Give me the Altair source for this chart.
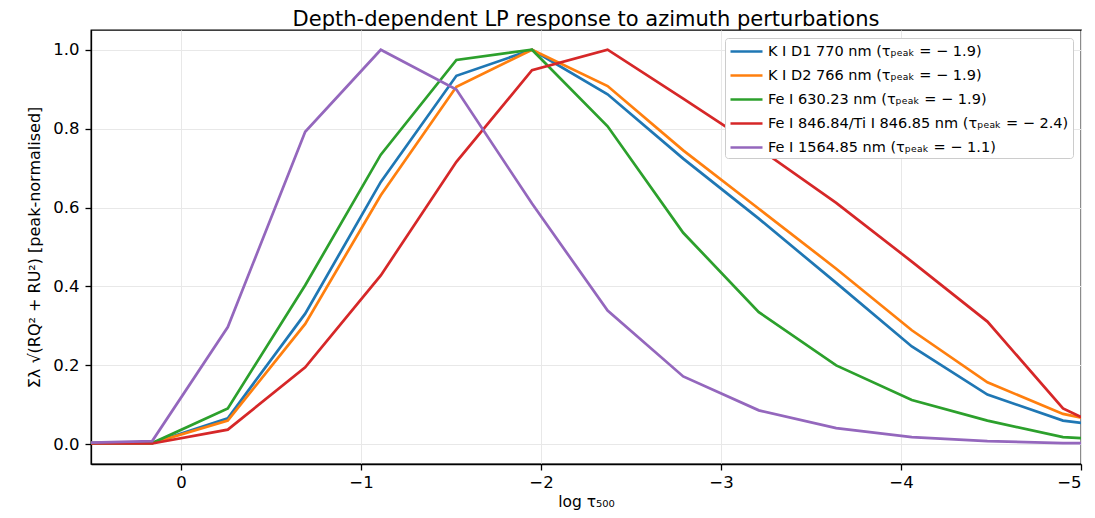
import altair as alt
import pandas as pd

tau = [0.58, 0.16, -0.26, -0.69, -1.11, -1.53, -1.95, -2.37, -2.79, -3.21, -3.64, -4.06, -4.48, -4.90, -5.32]

labels = [
    "K I D1 770 nm (τₚₑₐₖ = − 1.9)",
    "K I D2 766 nm (τₚₑₐₖ = − 1.9)",
    "Fe I 630.23 nm (τₚₑₐₖ = − 1.9)",
    "Fe I 846.84/Ti I 846.85 nm (τₚₑₐₖ = − 2.4)",
    "Fe I 1564.85 nm (τₚₑₐₖ = − 1.1)",
]
colors = ["#1f77b4", "#ff7f0e", "#2ca02c", "#d62728", "#9467bd"]

k_d1 = [0.003, 0.003, 0.066, 0.331, 0.665, 0.934, 1.000, 0.887, 0.724, 0.572, 0.409, 0.248, 0.126, 0.060, 0.035]
k_d2 = [0.003, 0.003, 0.060, 0.305, 0.631, 0.906, 1.000, 0.908, 0.745, 0.597, 0.445, 0.289, 0.157, 0.077, 0.036]
fe630 = [0.003, 0.003, 0.091, 0.403, 0.734, 0.974, 1.000, 0.806, 0.536, 0.335, 0.200, 0.112, 0.060, 0.018, 0.008]
fe846 = [0.002, 0.002, 0.037, 0.195, 0.428, 0.716, 0.948, 1.000, 0.876, 0.750, 0.612, 0.463, 0.311, 0.091, 0.000]
fe1564 = [0.003, 0.008, 0.297, 0.792, 1.000, 0.899, 0.610, 0.339, 0.172, 0.086, 0.041, 0.018, 0.008, 0.003, 0.002]

series = [k_d1, k_d2, fe630, fe846, fe1564]

rows = []
for i, (lab, vals) in enumerate(zip(labels, series)):
    for t, v in zip(tau, vals):
        rows.append({"tau": t, "value": v, "series": lab, "order": i})
df = pd.DataFrame(rows)

FONT = "DejaVu Sans"

chart = alt.Chart(df).mark_line(strokeWidth=2.7, clip=True).encode(
    x=alt.X(
        "tau:Q",
        scale=alt.Scale(domain=[-5, 0.5], reverse=True, nice=False, zero=False),
        axis=alt.Axis(
            values=[0, -1, -2, -3, -4, -5],
            title="log τ₅₀₀",
            titleFontSize=15.5,
            labelPadding=4,
            titlePadding=4,
        ),
    ),
    y=alt.Y(
        "value:Q",
        scale=alt.Scale(domain=[-0.05, 1.05], nice=False, zero=False),
        axis=alt.Axis(
            values=[0, 0.2, 0.4, 0.6, 0.8, 1.0],
            format=".1f",
            title="Σλ √(RQ² + RU²) [peak-normalised]",
            titleFontSize=16,
            labelPadding=6,
            titlePadding=10,
        ),
    ),
    color=alt.Color(
        "series:N",
        scale=alt.Scale(domain=labels, range=colors),
        legend=alt.Legend(
            title=None,
            orient="top-right",
            offset=8,
            fillColor="white",
            strokeColor="#cccccc",
            cornerRadius=3,
            padding=4,
            symbolType="M-1,0H3",
            symbolSize=256,
            symbolStrokeWidth=2.7,
            labelFontSize=14.5,
            labelFont=FONT,
            labelColor="black",
            labelOffset=20,
            rowPadding=8,
            labelLimit=400,
        ),
    ),
    order=alt.Order("order:Q"),
).properties(
    width=990,
    height=434,
    padding={"left": 83, "top": 22, "right": 5, "bottom": 46},
    autosize=alt.AutoSizeParams(type="none"),
    title=alt.Title(
        "Depth-dependent LP response to azimuth perturbations",
        font=FONT,
        fontSize=21,
        fontWeight="normal",
        color="black",
        offset=0,
    ),
).configure_axis(
    labelFont=FONT,
    titleFont=FONT,
    labelFontSize=16.5,
    titleFontWeight="normal",
    labelColor="black",
    titleColor="black",
    domainColor="black",
    domainWidth=1.3,
    tickColor="black",
    tickSize=6,
    tickWidth=1.3,
    gridColor="#e8e8e8",
    gridWidth=1,
).configure_view(
    stroke="black",
    strokeWidth=1.3,
)

chart.save("out.html", embed_options={"renderer": "svg", "actions": False})
